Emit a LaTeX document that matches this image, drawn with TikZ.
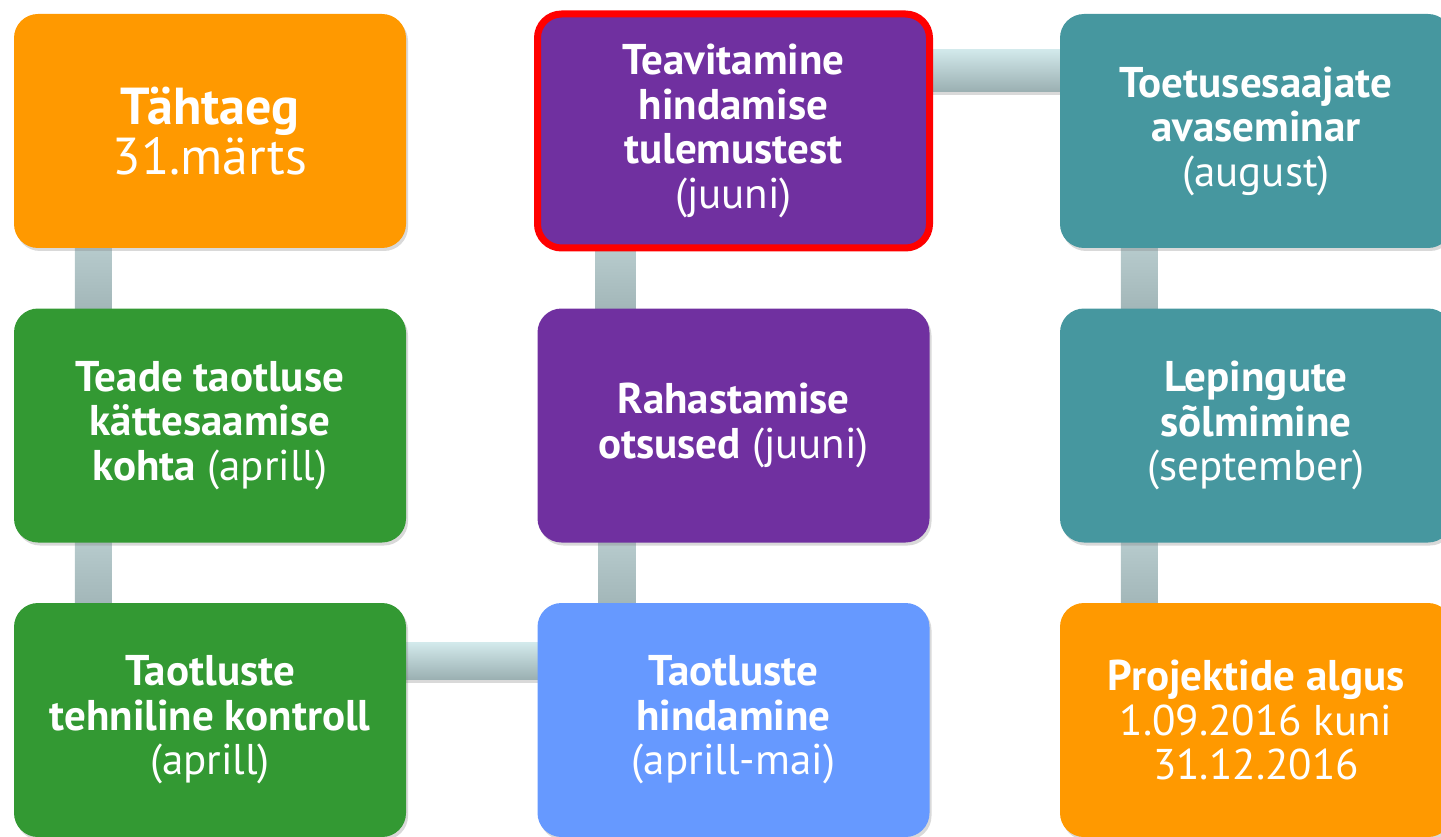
\documentclass[tikz,border=0pt]{standalone}
\usepackage{fontspec}
\setmainfont{PT Sans}
\usetikzlibrary{calc,shadows,backgrounds}
\definecolor{oranz}{HTML}{FF9900}
\definecolor{roheline}{HTML}{339933}
\definecolor{lilla}{HTML}{7030A0}
\definecolor{helesinine}{HTML}{6699FF}
\definecolor{merevaik}{HTML}{46979F}
\definecolor{sildhele}{HTML}{D2E9EB}
\definecolor{sildtume}{HTML}{9AAFB1}
\definecolor{postihele}{HTML}{B7CBCD}
\definecolor{postitume}{HTML}{A2B6B8}
\begin{document}
\begin{tikzpicture}[x=1pt,y=1pt,
    kast/.style={rounded corners=24pt,minimum width=392pt,minimum height=234pt,inner sep=0pt,
        text=white,align=center,font=\fontsize{43}{44.5}\selectfont,
        drop shadow={shadow xshift=2pt,shadow yshift=-3pt,opacity=0.3}},
    hsild/.style={top color=sildhele,bottom color=sildtume},
    vsild/.style={top color=postihele,bottom color=postitume}]
    \useasboundingbox (0,0) rectangle (1441,-837);
    % esimene veerg
    \node[kast,fill=oranz,font=\fontsize{52}{50}\selectfont] (tahtaeg) at (210,-131) {\textbf{Tähtaeg}\\31.märts};
    \node[kast,fill=roheline] (teade) at (210,-425.5) {\textbf{Teade taotluse}\\\textbf{kättesaamise}\\\textbf{kohta} (aprill)};
    \node[kast,fill=roheline] (kontroll) at (210,-720) {\textbf{Taotluste}\\\textbf{tehniline kontroll}\\(aprill)};
    % teine veerg
    \node[kast,fill=helesinine] (hindamine) at (733.5,-720) {\textbf{Taotluste}\\\textbf{hindamine}\\(aprill-mai)};
    \node[kast,fill=lilla] (otsused) at (733.5,-425.5) {\textbf{Rahastamise}\\\textbf{otsused} (juuni)};
    \node[kast,fill=lilla,draw=red,line width=7pt] (teavitamine) at (733.5,-131) {\textbf{Teavitamine}\\\textbf{hindamise}\\\textbf{tulemustest}\\(juuni)};
    % kolmas veerg
    \node[kast,fill=merevaik] (avaseminar) at (1256,-131) {\textbf{Toetusesaajate}\\\textbf{avaseminar}\\(august)};
    \node[kast,fill=merevaik] (lepingud) at (1256,-425.5) {\textbf{Lepingute}\\\textbf{sõlmimine}\\(september)};
    \node[kast,fill=oranz] (algus) at (1256,-720) {\textbf{Projektide algus}\\1.09.2016 kuni\\31.12.2016};
    \begin{scope}[on background layer]
        \foreach \ylem/\alum in {tahtaeg/teade,teade/kontroll,otsused/hindamine,teavitamine/otsused,avaseminar/lepingud,lepingud/algus}
            \shade[vsild] ($(\ylem.south west)+(61,2)$) rectangle ($(\alum.north west)+(98,-2)$);
        \shade[hsild,drop shadow={shadow xshift=0pt,shadow yshift=-3pt,opacity=0.3}] ($(kontroll.north east)+(-2,-40)$) rectangle ($(hindamine.north west)+(2,-77)$);
        \shade[hsild,drop shadow={shadow xshift=0pt,shadow yshift=-3pt,opacity=0.3}] ($(teavitamine.north east)+(-2,-39)$) rectangle ($(avaseminar.north west)+(2,-78)$);
    \end{scope}
\end{tikzpicture}
\end{document}
